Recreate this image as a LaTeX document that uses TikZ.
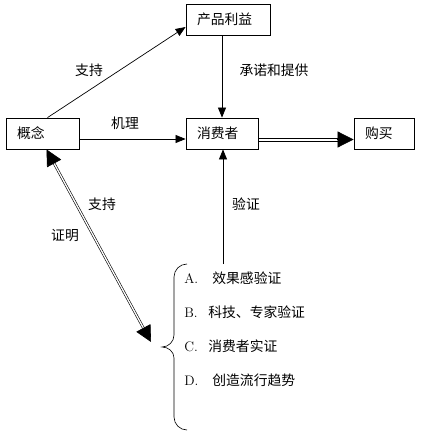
\documentclass[tikz,border=0pt]{standalone}
\usepackage{fontspec}
\newfontfamily\cjk{Noto Sans CJK SC}
\usetikzlibrary{arrows.meta}

\begin{document}
\begin{tikzpicture}[
  x=1pt,y=-1pt,
  every node/.style={font=\cjk\fontsize{13.8}{16}\selectfont,inner sep=0pt},
  box/.style={draw,line width=0.8pt,minimum height=31pt,inner xsep=11pt,align=left},
  dbl/.style={double,double distance=1.3pt,line width=0.6pt},
  bigtip/.tip={Triangle[length=16pt,width=16pt]},
  ->,>={Triangle[length=10pt,width=8pt]},
  line width=0.7pt]
  \useasboundingbox (0,0) rectangle (421,438);
  % boxes
  \node[box,text width=62pt](benefit) at(228,19.5){产品利益};
  \node[box,text width=51pt](concept) at(42.5,133.5){概念};
  \node[box,text width=50pt](consumer) at(222,133.5){消费者};
  \node[box,text width=38pt](buy) at(384,133.5){购买};
  % labels
  \node(lsup1) at(89,70){支持};
  \node(lpromise) at(274,70){承诺和提供};
  \node(lmech) at(125,123){机理};
  \node(lsup2) at(102,204){支持};
  \node(lprove) at(65,235){证明};
  \node(lverify) at(246,204){验证};
  % list
  \node[anchor=west](ia) at(184,278){\makebox[28pt][l]{\rmfamily A.}效果感验证};
  \node[anchor=west](ib) at(184,312){\makebox[24pt][l]{\rmfamily B.}科技、专家验证};
  \node[anchor=west](ic) at(184,346){\makebox[24pt][l]{\rmfamily C.}消费者实证};
  \node[anchor=west](id) at(184,380){\makebox[28pt][l]{\rmfamily D.}创造流行趋势};
  \coordinate(vtop) at(223,264);
  \coordinate(tip) at(151,342);
  \coordinate(cs) at([yshift=-6pt]consumer.east);
  \coordinate(bw) at(cs -| buy.west);
  % connectors
  \draw([xshift=5pt]concept.north)--([yshift=-7.5pt]benefit.west);
  \draw(consumer.north |- benefit.south)--(consumer.north);
  \draw([yshift=-5.5pt]concept.east)--([yshift=-5.5pt]concept.east -| consumer.west);
  \draw(vtop)--(vtop |- consumer.south);
  \draw[-,line width=0.8pt]([yshift=1.5pt]cs)--([shift={(-15,-1.5)}]bw)
    ([yshift=-1.5pt]cs)--([shift={(-15,1.5)}]bw);
  \draw[-bigtip]([xshift=-17pt]bw)--(bw);
  \draw[dbl,bigtip-bigtip]([xshift=4pt]concept.south)--(tip);
  % brace
  \draw[-,line width=0.6pt](187,264) to[out=180,in=90](174,277)--(174,335)
    to[out=-90,in=0](162,347) to[out=0,in=90](174,358)--(174,417)
    to[out=-90,in=180](187,430);
\end{tikzpicture}
\end{document}
